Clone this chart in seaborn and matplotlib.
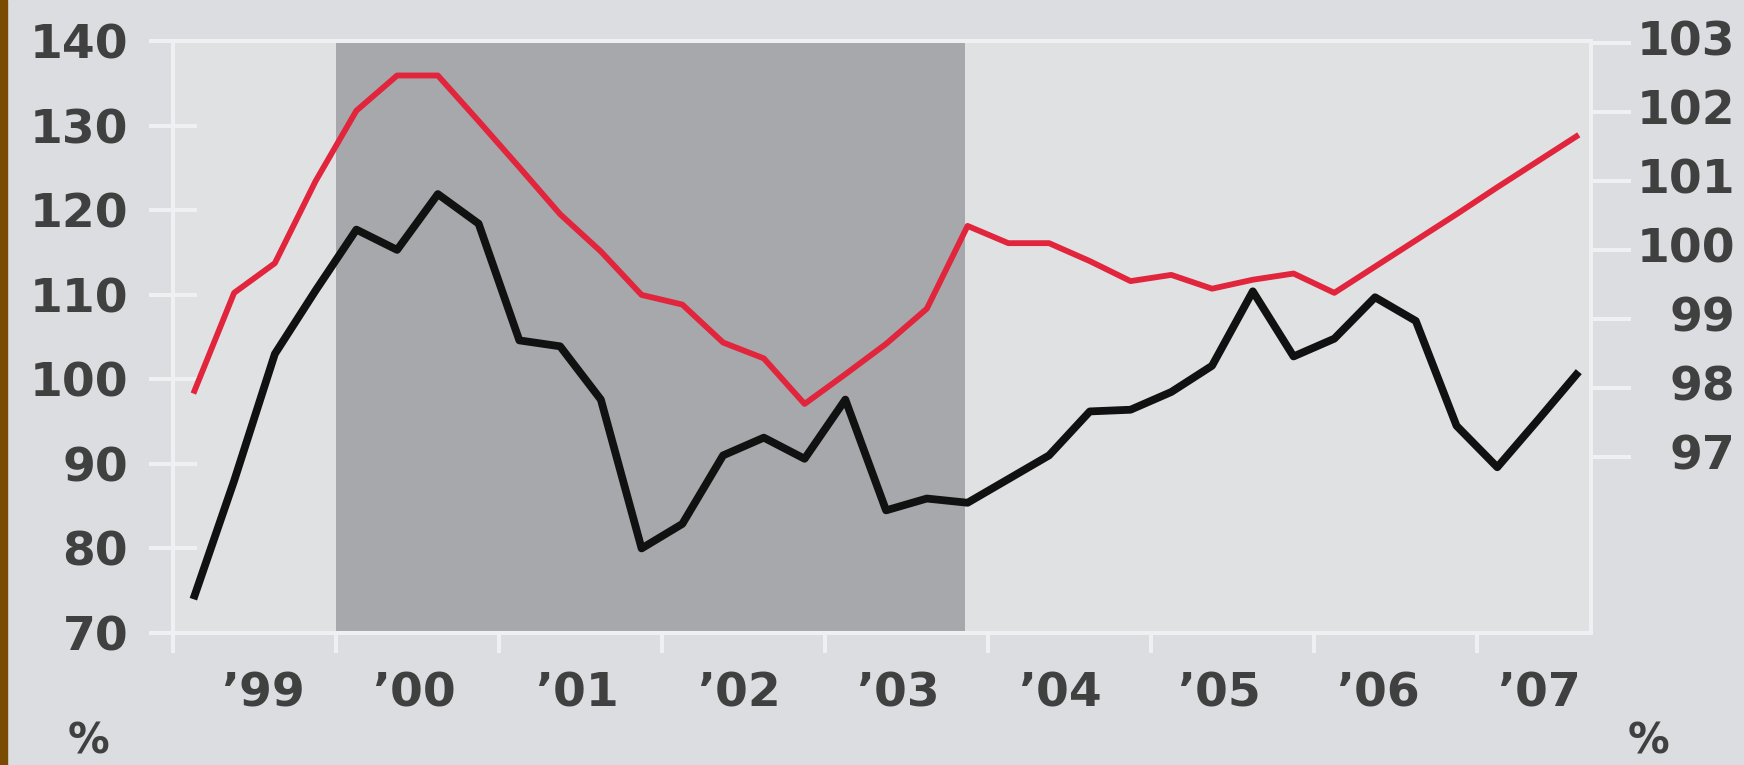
# Dois indices trimestrais 1999-2007, eixo esquerdo (preto) e direito (vermelho)
# Rode com: python3 plot.py

import pandas as pd
import numpy as np
import matplotlib
matplotlib.use('Agg')  # sem GUI
import matplotlib.pyplot as plt
import matplotlib.transforms as mtransforms
from matplotlib.patches import Rectangle
import seaborn as sns

# ============================================================
# DADOS
# ============================================================
quarters = pd.period_range('1999Q1', '2007Q3', freq='Q')

black_vals = [74.0, 88.0, 103.0, 110.5, 117.7, 115.3, 121.9, 118.4,
              104.6, 103.9, 97.6, 80.0, 82.9, 91.0, 93.1, 90.6,
              97.6, 84.5, 85.9, 85.4, 88.2, 91.0, 96.2, 96.4,
              98.5, 101.6, 110.4, 102.7, 104.8, 109.7, 106.9, 94.5,
              89.6, 95.2, 100.9]

red_vals = [97.92, 99.38, 99.81, 101.0, 102.02, 102.53, 102.53, 101.87,
            101.2, 100.52, 99.98, 99.35, 99.21, 98.66, 98.43, 97.77,
            98.2, 98.64, 99.15, 100.35, 100.10, 100.10, 99.84, 99.55,
            99.64, 99.44, 99.57, 99.66, 99.38, 99.76, 100.14, 100.52,
            100.91, 101.29, 101.67]

shade_start = 2000.0
shade_end = 2003.86

left_ticks = [70, 80, 90, 100, 110, 120, 130, 140]
right_ticks = [97, 98, 99, 100, 101, 102, 103]
year_ticks = [1999, 2000, 2001, 2002, 2003, 2004, 2005, 2006, 2007]
year_labels = ["\u201999", "\u201900", "\u201901", "\u201902", "\u201903",
               "\u201904", "\u201905", "\u201906", "\u201907"]
year_label_pos = [1999.55, 2000.48, 2001.48, 2002.47, 2003.45,
                  2004.44, 2005.42, 2006.39, 2007.38]

# posicao no meio de cada trimestre, em anos decimais
x_q = quarters.year + (quarters.quarter - 0.5) / 4
df = pd.DataFrame({'x': x_q, 'black': black_vals, 'red': red_vals})

# ============================================================
# ESTILO
# ============================================================
BG = '#dcdde0'
PLOT_BG = '#e0e1e3'
SHADE = '#a7a8ab'
LIGHT = '#eff0f2'
TEXT = '#404040'
RED = '#e0253d'
BROWN = '#7a4c02'

sns.set_style('white')
plt.rcParams['font.family'] = ['DejaVu Sans']

W, H = 1744, 765
fig = plt.figure(figsize=(W / 100, H / 100), dpi=100, facecolor=BG)
fig.patches.append(Rectangle((0, 0), 7 / W, 1, transform=fig.transFigure,
                             color=BROWN, zorder=0))

ax = fig.add_axes([173 / W, 1 - 633 / H, (1591 - 173) / W, (633 - 41) / H])
ax.set_facecolor(PLOT_BG)

# faixa cinza
ax.axvspan(shade_start, shade_end, color=SHADE, lw=0, zorder=0)

sns.lineplot(data=df, x='x', y='black', ax=ax, color='#111111', lw=5.6,
             zorder=3, solid_joinstyle='round', solid_capstyle='butt')
ax.set_xlim(1999.0, 2007.7)
ax.set_ylim(70, 140)

ax2 = ax.twinx()
sns.lineplot(data=df, x='x', y='red', ax=ax2, color=RED, lw=4.2, zorder=3,
             solid_joinstyle='round', solid_capstyle='butt')
ax2.set_ylim(94.45, 103.03)

for a in (ax, ax2):
    a.set_xlabel('')
    a.set_ylabel('')
    for s in a.spines.values():
        s.set_color(LIGHT)
        s.set_linewidth(2.9)
for s in ax2.spines.values():
    s.set_visible(False)

# eixo esquerdo
ax.set_yticks(left_ticks)
ax.tick_params(axis='y', which='major', direction='inout', length=34.5,
               width=2.9, color=LIGHT, labelsize=34, labelcolor=TEXT, pad=15,
               left=True, right=False)
for t in ax.get_yticklabels():
    t.set_fontweight('bold')

# eixo direito
ax2.set_yticks(right_ticks)
ax2.tick_params(axis='y', which='major', direction='out', length=29,
                width=2.9, color=LIGHT, labelsize=34, labelcolor=TEXT, pad=75,
                right=True, left=False)
shift = mtransforms.ScaledTranslation(0, 5 / 100, fig.dpi_scale_trans)
for t in ax2.get_yticklabels():
    t.set_fontweight('bold')
    t.set_horizontalalignment('right')
    t.set_transform(t.get_transform() + shift)

# eixo x: marcas nos limites dos anos, rotulos no meio
ax.set_xticks(year_ticks)
ax.set_xticklabels([])
ax.tick_params(axis='x', which='major', direction='out', length=14.4,
               width=2.9, color=LIGHT, bottom=True)
ax.set_xticks(year_label_pos, minor=True)
ax.set_xticklabels(year_labels, minor=True)
ax.tick_params(axis='x', which='minor', length=0, pad=27.5, labelsize=34,
               labelcolor=TEXT)
for t in ax.get_xticklabels(minor=True):
    t.set_fontweight('bold')

# unidades
fig.text(88 / W, 1 - 763 / H, '%', ha='center', va='bottom', fontsize=30,
         fontweight='bold', color=TEXT)
fig.text(1648 / W, 1 - 763 / H, '%', ha='center', va='bottom', fontsize=30,
         fontweight='bold', color=TEXT)

plt.savefig('out.png', dpi=100, facecolor=BG)
plt.close()
print("out.png")
